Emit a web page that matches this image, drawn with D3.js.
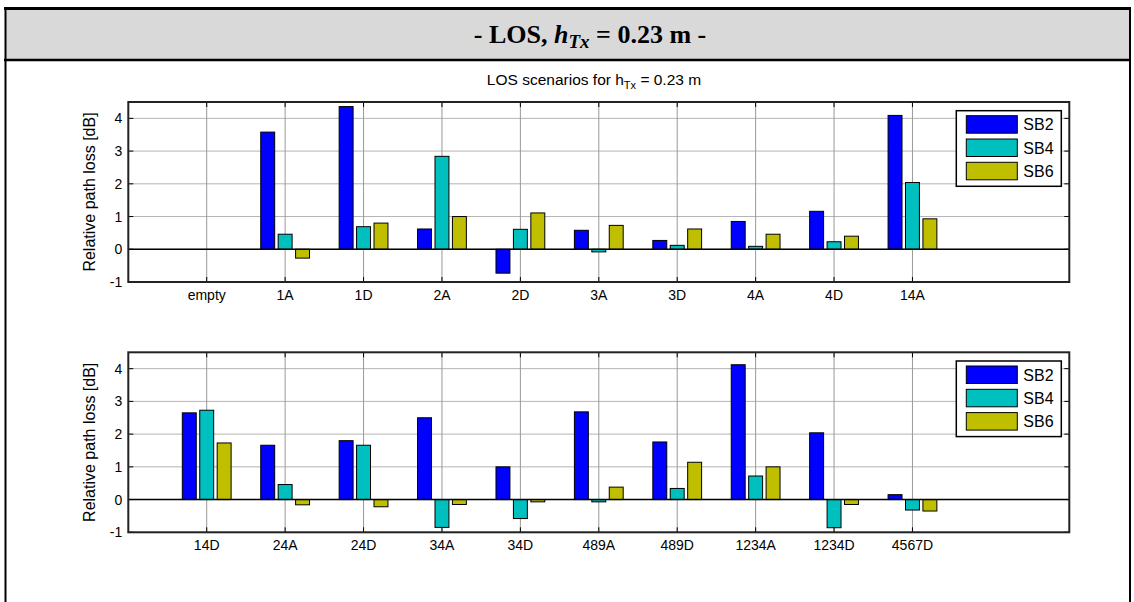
<!DOCTYPE html>
<html><head><meta charset="utf-8">
<script src="https://cdn.jsdelivr.net/npm/d3@7"></script>
<style>body{margin:0;background:#fff;overflow:hidden} text{font-family:"Liberation Sans",Arial,sans-serif;fill:#000}</style>
</head><body><svg id="c" width="1134" height="602"></svg>
<script>
const series = ["SB2","SB4","SB6"];
const colors = ["#0000FF","#00BFBF","#BFBF00"];
const categoriesTop = ["empty","1A","1D","2A","2D","3A","3D","4A","4D","14A"];
const sb2Top = [0,3.58,4.36,0.62,-0.73,0.58,0.27,0.85,1.16,4.09];
const sb4Top = [0,0.46,0.69,2.84,0.61,-0.08,0.12,0.09,0.23,2.04];
const sb6Top = [0,-0.27,0.80,1.00,1.11,0.73,0.62,0.46,0.40,0.93];
const categoriesBottom = ["14D","24A","24D","34A","34D","489A","489D","1234A","1234D","4567D"];
const sb2Bottom = [2.65,1.66,1.80,2.50,1.00,2.68,1.76,4.12,2.04,0.15];
const sb4Bottom = [2.73,0.46,1.66,-0.85,-0.58,-0.07,0.34,0.72,-0.86,-0.32];
const sb6Bottom = [1.73,-0.16,-0.22,-0.15,-0.07,0.38,1.14,1.00,-0.15,-0.35];
const yTicks = [-1,0,1,2,3,4];
const yLabel = "Relative path loss [dB]";

const svg = d3.select("#c");

// outer frame (document table cell)
svg.append("rect").attr("x",5).attr("y",8).attr("width",1125).attr("height",52).attr("fill","#D9D9D9");
svg.append("line").attr("x1",4).attr("x2",1131).attr("y1",8.5).attr("y2",8.5).attr("stroke","#000").attr("stroke-width",3);
svg.append("line").attr("x1",4).attr("x2",1131).attr("y1",60).attr("y2",60).attr("stroke","#000").attr("stroke-width",2.5);
svg.append("line").attr("x1",5.5).attr("x2",5.5).attr("y1",7).attr("y2",602).attr("stroke","#000").attr("stroke-width",2);
svg.append("line").attr("x1",1130).attr("x2",1130).attr("y1",7).attr("y2",602).attr("stroke","#000").attr("stroke-width",2);

// main title
const t = svg.append("text").attr("x",590).attr("y",43).attr("text-anchor","middle")
  .style("font-family","'Liberation Serif','Times New Roman',serif").style("font-weight","bold").style("font-size","26px");
t.append("tspan").text("- LOS, ");
t.append("tspan").style("font-style","italic").text("h");
t.append("tspan").style("font-style","italic").style("font-size","19px").attr("dy",5).text("Tx");
t.append("tspan").attr("dy",-5).text(" = 0.23 m -");

// subtitle
const st = svg.append("text").attr("x",594).attr("y",85).attr("text-anchor","middle").style("font-size","15.5px");
st.append("tspan").text("LOS scenarios for h");
st.append("tspan").style("font-size","11px").attr("dy",4).text("Tx");
st.append("tspan").attr("dy",-4).text(" = 0.23 m");

function panel(top, cats, vals) {
  const g = svg.append("g");
  const x = d3.scaleLinear().domain([0,12]).range([128.3,1069.3]);
  const y = d3.scaleLinear().domain([-1,4.5]).range([top+180, top]);
  const [x0,x1] = x.range(); const [y0,y1] = [y(-1), y(4.5)];
  const catPos = cats.map((c,i)=>i+1);
  // grid
  g.selectAll(".gy").data(yTicks).join("line").attr("x1",x0).attr("x2",x1)
    .attr("y1",d=>y(d)).attr("y2",d=>y(d)).attr("stroke","#b4b4b4").attr("stroke-width",1);
  g.selectAll(".gx").data(catPos).join("line").attr("x1",d=>x(d)).attr("x2",d=>x(d))
    .attr("y1",y0).attr("y2",y1).attr("stroke","#999").attr("stroke-width",1);
  // bars
  const n = series.length, gw = Math.min(0.8, n/(n+1.5)), bw = gw/n*0.8;
  vals.forEach((arr,si)=>{
    const off = (si-(n-1)/2)*gw/n;
    g.selectAll(".b"+si).data(arr).join("rect")
      .attr("x",(d,i)=>x(catPos[i]+off-bw/2))
      .attr("width",x(bw)-x(0))
      .attr("y",d=>y(Math.max(0,d)))
      .attr("height",d=>Math.abs(y(d)-y(0)))
      .attr("fill",colors[si]).attr("stroke","#000").attr("stroke-width",1);
  });
  // zero baseline
  g.append("line").attr("x1",x0).attr("x2",x1).attr("y1",y(0)).attr("y2",y(0)).attr("stroke","#000").attr("stroke-width",1.5);
  // ticks inside
  const tl = 5;
  g.selectAll(".tyl").data(yTicks).join("line").attr("x1",x0).attr("x2",x0+tl).attr("y1",d=>y(d)).attr("y2",d=>y(d)).attr("stroke","#000");
  g.selectAll(".tyr").data(yTicks).join("line").attr("x1",x1).attr("x2",x1-tl).attr("y1",d=>y(d)).attr("y2",d=>y(d)).attr("stroke","#000");
  g.selectAll(".txb").data(catPos).join("line").attr("x1",d=>x(d)).attr("x2",d=>x(d)).attr("y1",y0).attr("y2",y0-tl).attr("stroke","#000");
  g.selectAll(".txt").data(catPos).join("line").attr("x1",d=>x(d)).attr("x2",d=>x(d)).attr("y1",y1).attr("y2",y1+tl).attr("stroke","#000");
  // box
  g.append("rect").attr("x",x0).attr("y",y1).attr("width",x1-x0).attr("height",y0-y1)
    .attr("fill","none").attr("stroke","#222").attr("stroke-width",2);
  // tick labels
  g.selectAll(".yl").data(yTicks).join("text").attr("x",x0-6).attr("y",d=>y(d)).attr("dy","0.36em")
    .attr("text-anchor","end").style("font-size","14px").text(d=>d);
  g.selectAll(".xl").data(cats).join("text").attr("x",(d,i)=>x(catPos[i])).attr("y",y0+18)
    .attr("text-anchor","middle").style("font-size","14px").text(d=>d);
  g.append("text").attr("transform",`translate(95,${(y0+y1)/2}) rotate(-90)`).attr("text-anchor","middle")
    .style("font-size","16px").text(yLabel);
  // legend
  const lx = x1-113, ly = y1+8.7;
  g.append("rect").attr("x",lx).attr("y",ly).attr("width",105).attr("height",75.6)
    .attr("fill","#fff").attr("stroke","#000").attr("stroke-width",1.5);
  series.forEach((s,i)=>{
    g.append("rect").attr("x",lx+10).attr("y",ly+5+i*23.3).attr("width",51).attr("height",17.5)
      .attr("fill",colors[i]).attr("stroke","#000").attr("stroke-width",1);
    g.append("text").attr("x",lx+67).attr("y",ly+5+i*23.3+8.75).attr("dy","0.36em").style("font-size","16px").text(s);
  });
}
panel(102, categoriesTop, [sb2Top, sb4Top, sb6Top]);
panel(352.3, categoriesBottom, [sb2Bottom, sb4Bottom, sb6Bottom]);
</script></body></html>
